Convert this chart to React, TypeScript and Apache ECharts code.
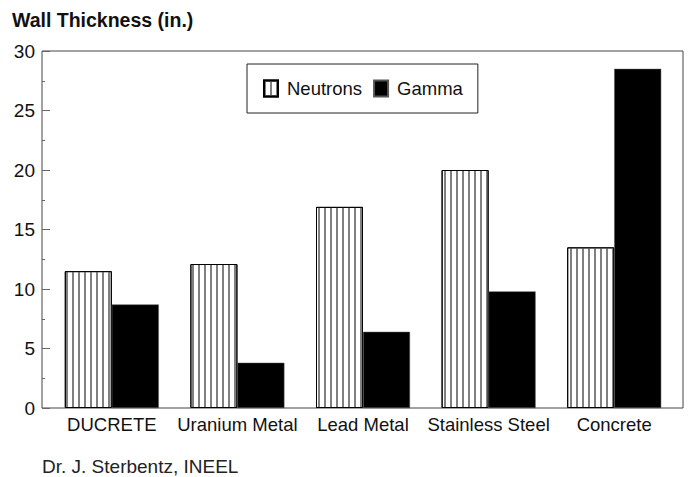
import React, { useEffect, useRef } from "react";
import * as echarts from "echarts";

const categories = ["DUCRETE", "Uranium Metal", "Lead Metal", "Stainless Steel", "Concrete"];
const neutrons = [11.5, 12.1, 16.9, 20.0, 13.5];
const gamma = [8.7, 3.8, 6.4, 9.8, 28.5];
const yTicks = [0, 5, 10, 15, 20, 25, 30];

export default function App() {
  const ref = useRef<HTMLDivElement>(null);
  useEffect(() => {
    if (!ref.current) return;
    const chart = echarts.init(ref.current, undefined, { renderer: "svg" });
    const font = "'Liberation Sans', Arial, Helvetica, sans-serif";
    chart.setOption({
      animation: false,
      backgroundColor: "#fff",
      textStyle: { fontFamily: font },
      title: [
        {
          text: "Wall Thickness (in.)",
          left: 12,
          top: 10,
          padding: 0,
          textStyle: { fontSize: 19.5, fontWeight: "bold", color: "#111", fontFamily: font },
        },
        {
          text: "Dr. J. Sterbentz, INEEL",
          left: 42,
          top: 457,
          padding: 0,
          textStyle: { fontSize: 19, fontWeight: "normal", color: "#222", fontFamily: font, lineHeight: 19 },
        },
      ],
      legend: {
        left: 247,
        top: 64,
        padding: [15, 15, 15, 16],
        borderColor: "#222",
        borderWidth: 1,
        itemWidth: 14,
        itemHeight: 16,
        itemGap: 11,
        icon: "rect",
        textStyle: { fontSize: 18.5, color: "#111", fontFamily: font, padding: [0, 0, 0, 4] },
        data: ["Neutrons", "Gamma"],
      },
      grid: [
        { left: 42, right: 6, top: 51, bottom: 69, show: true, borderColor: "#444", borderWidth: 1, backgroundColor: "transparent" },
        { left: 49, right: 12, top: 51, bottom: 69 },
      ],
      xAxis: [
        { gridIndex: 0, type: "category", data: categories, show: false },
        {
          gridIndex: 1,
          type: "category",
          data: categories,
          axisLine: { show: false },
          axisTick: { show: false },
          axisLabel: { interval: 0, fontSize: 18.5, color: "#111", margin: 7, fontFamily: font },
        },
      ],
      yAxis: [
        { gridIndex: 0, type: "value", min: 0, max: 30, show: false },
        {
          gridIndex: 1,
          type: "value",
          min: 0,
          max: 30,
          interval: 5,
          offset: 7,
          axisLine: { show: false },
          axisTick: { show: true, inside: true, length: 8, lineStyle: { color: "#666" } },
          minorTick: { show: true, splitNumber: 2, length: 3, lineStyle: { color: "#666" } },
          splitLine: { show: false },
          axisLabel: {
            fontSize: 19,
            color: "#111",
            margin: 7,
            fontFamily: font,
            formatter: (v: number) => (yTicks.includes(v) ? String(v) : ""),
          },
        },
      ],
      series: [
        {
          name: "Neutrons",
          type: "bar",
          xAxisIndex: 1,
          yAxisIndex: 1,
          data: neutrons,
          barWidth: 47,
          barGap: "0%",
          itemStyle: {
            color: "#fff",
            borderColor: "#000",
            borderWidth: 1,
            decal: {
              symbol: "rect",
              symbolSize: 1,
              color: "#808080",
              dashArrayX: [2, 4],
              dashArrayY: [1, 0],
              rotation: 0,
            },
          },
        },
        {
          name: "Gamma",
          type: "bar",
          xAxisIndex: 1,
          yAxisIndex: 1,
          data: gamma,
          barWidth: 47,
          barGap: "0%",
          itemStyle: { color: "#000", borderColor: "#555", borderWidth: 0.5 },
        },
      ],
    });
    return () => chart.dispose();
  }, []);
  return <div ref={ref} style={{ width: 689, height: 477, position: "absolute", left: 0, top: 0 }} />;
}
